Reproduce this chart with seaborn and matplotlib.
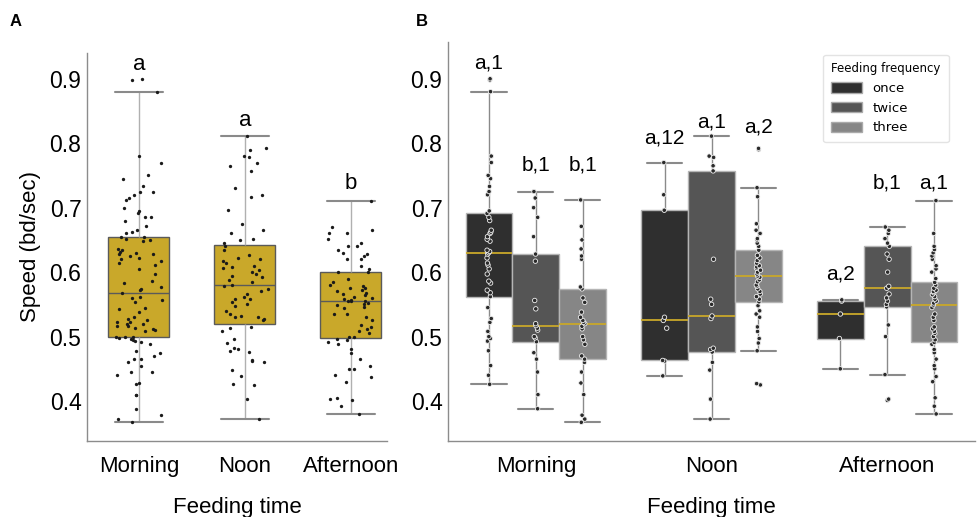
import numpy as np
import pandas as pd
import matplotlib
matplotlib.use("Agg")
import matplotlib.pyplot as plt
from matplotlib.patches import Patch
import seaborn as sns

times = ["Morning", "Noon", "Afternoon"]
freqs = ["once", "twice", "three"]

# speeds (bd/sec), one list per feeding time / frequency
morning_once = [0.426, 0.44, 0.455, 0.478, 0.493, 0.497, 0.500, 0.508, 0.522, 0.528, 0.545,
                0.562,
                0.568, 0.572, 0.583, 0.586, 0.597, 0.605, 0.611, 0.614, 0.622, 0.628,
                0.630,
                0.632, 0.634, 0.648, 0.651, 0.655, 0.660, 0.662, 0.665, 0.680, 0.685,
                0.691,
                0.695, 0.72, 0.725, 0.733, 0.745, 0.75, 0.77, 0.78, 0.88, 0.898, 0.90]
morning_twice = [0.388, 0.41, 0.445, 0.465, 0.475, 0.492, 0.498, 0.500, 0.51, 0.513, 0.517,
                 0.52, 0.543, 0.556, 0.617, 0.628, 0.655, 0.685, 0.70, 0.715, 0.725]
morning_three = [0.367, 0.372, 0.378, 0.41, 0.428, 0.445, 0.46, 0.465,
                 0.47, 0.488, 0.495, 0.50, 0.512, 0.516, 0.520,
                 0.522, 0.525, 0.53, 0.538, 0.553, 0.56, 0.574,
                 0.577, 0.62, 0.625, 0.636, 0.65, 0.671, 0.712]
noon_once = [0.439, 0.462, 0.463, 0.513, 0.525, 0.53, 0.696, 0.72, 0.77]
noon_twice = [0.372, 0.403, 0.448, 0.46, 0.476, 0.48, 0.482, 0.528, 0.532,
              0.55, 0.558, 0.62, 0.757, 0.765, 0.778, 0.78, 0.811]
noon_three = [0.425, 0.427, 0.478, 0.49, 0.497, 0.508, 0.515, 0.53, 0.535, 0.54, 0.548,
              0.554,
              0.558, 0.562, 0.566, 0.57, 0.574, 0.578, 0.58, 0.585, 0.588, 0.592,
              0.594,
              0.597, 0.60, 0.603, 0.606, 0.608, 0.61, 0.614, 0.618, 0.622, 0.626,
              0.634,
              0.64, 0.645, 0.65, 0.652, 0.66, 0.665, 0.675, 0.717, 0.731, 0.79, 0.792]
afternoon_once = [0.45, 0.497, 0.535, 0.555, 0.557]
afternoon_twice = [0.401, 0.403, 0.441, 0.50, 0.518, 0.546, 0.55, 0.555, 0.56, 0.566, 0.575,
                   0.578, 0.60, 0.62, 0.628, 0.640, 0.645, 0.652, 0.66, 0.665, 0.670]
afternoon_three = [0.380, 0.392, 0.405, 0.43, 0.438, 0.45, 0.455, 0.465, 0.475, 0.48, 0.488,
                   0.491,
                   0.495, 0.50, 0.505, 0.508, 0.512, 0.515, 0.525, 0.53, 0.535, 0.545,
                   0.549,
                   0.552, 0.555, 0.558, 0.562, 0.565, 0.568, 0.57, 0.572, 0.575, 0.58,
                   0.584,
                   0.59, 0.60, 0.605, 0.61, 0.62, 0.625, 0.63, 0.635, 0.64, 0.66, 0.711]

letters_A = ["a", "a", "b"]
letters_B = ["a,1", "b,1", "b,1", "a,12", "a,1", "a,2", "a,2", "b,1", "a,1"]
# where the letters sit (speed units)
letters_A_y = [0.922, 0.836, 0.738]
letters_B_y = [0.925, 0.766, 0.766, 0.808, 0.833, 0.825, 0.597, 0.738, 0.738]

groups = {
    ("Morning", "once"): morning_once, ("Morning", "twice"): morning_twice, ("Morning", "three"): morning_three,
    ("Noon", "once"): noon_once, ("Noon", "twice"): noon_twice, ("Noon", "three"): noon_three,
    ("Afternoon", "once"): afternoon_once, ("Afternoon", "twice"): afternoon_twice, ("Afternoon", "three"): afternoon_three,
}
rows = []
for (t, f), vals in groups.items():
    for v in vals:
        rows.append({"time": t, "freq": f, "speed": v})
df = pd.DataFrame(rows)

gold = "#C9A82A"
grays = {"once": "#2f2f2f", "twice": "#555555", "three": "#868686"}

sns.set_style("white")
plt.rcParams['font.family'] = ['Liberation Sans', 'DejaVu Sans']
plt.rcParams['text.color'] = 'black'
plt.rcParams['axes.labelcolor'] = 'black'
plt.rcParams['xtick.color'] = 'black'
plt.rcParams['ytick.color'] = 'black'

fig = plt.figure(figsize=(9.77, 5.17), dpi=100)
axA = fig.add_axes([87/977, 1-441/517, 300/977, 388/517])
axB = fig.add_axes([448/977, 1-441/517, 527/977, 399/517])

np.random.seed(2)

# panel A
sns.boxplot(data=df, x="time", y="speed", order=times, ax=axA, color=gold, saturation=1,
            width=0.575, showfliers=False, linewidth=1,
            boxprops=dict(edgecolor="#5a5a5a"), whiskerprops=dict(color="#b0b0b0"),
            capprops=dict(color="#8a8a8a", linewidth=1.5), medianprops=dict(color="#5a5a5a"),
            capwidths=0.46)
sns.stripplot(data=df, x="time", y="speed", order=times, ax=axA, color="#1a1a1a",
              size=2.4, jitter=0.22)
axA.set_xlim(-0.49, 2.34)
axA.set_ylim(0.338, 0.940)
for i, (lab, ly) in enumerate(zip(letters_A, letters_A_y)):
    axA.text(i, ly, lab, ha="center", va="center", fontsize=16)
axA.set_xlabel("Feeding time", fontsize=16, labelpad=14)
axA.set_ylabel("Speed (bd/sec)", fontsize=16, labelpad=6)

# panel B
sns.boxplot(data=df, x="time", y="speed", hue="freq", order=times, hue_order=freqs,
            palette=grays, saturation=1, width=0.8, showfliers=False, linewidth=1, ax=axB,
            boxprops=dict(edgecolor="#b5b5b5"), whiskerprops=dict(color="#8a8a8a"),
            capprops=dict(color="#8a8a8a", linewidth=1.5), medianprops=dict(color=gold, linewidth=1.3),
            capwidths=0.2, legend=False)
sns.stripplot(data=df, x="time", y="speed", hue="freq", order=times, hue_order=freqs,
              palette={f: "#2a2a2a" for f in freqs}, dodge=True, jitter=0.04, size=3.2,
              edgecolor="#f0f0f0", linewidth=0.6, legend=False, ax=axB)
axB.set_xlim(-0.5, 2.5)
axB.set_ylim(0.338, 0.957)
offsets = [-0.8/3, 0, 0.8/3]
k = 0
for i in range(3):
    for j in range(3):
        axB.text(i + offsets[j], letters_B_y[k], letters_B[k], ha="center", va="center", fontsize=15)
        k += 1
axB.set_xlabel("Feeding time", fontsize=16, labelpad=14)
axB.set_ylabel("")

handles = [Patch(facecolor=grays[f], edgecolor="#aaaaaa", label=f) for f in freqs]
leg = axB.legend(handles=handles, title="Feeding frequency", loc="upper left",
                 bbox_to_anchor=(0.70, 0.985), fontsize=9.5, title_fontsize=8.5,
                 frameon=True, handlelength=2.3, handleheight=0.8, borderpad=0.6)
leg.get_frame().set_edgecolor("#dddddd")
leg._legend_box.align = "left"
for t in leg.get_texts():
    t.set_family("DejaVu Sans")
leg.get_title().set_family("DejaVu Sans")

for ax in (axA, axB):
    ax.set_yticks([0.4, 0.5, 0.6, 0.7, 0.8, 0.9])
    ax.set_yticklabels(["0.4", "0.5", "0.6", "0.7", "0.8", "0.9"])
    ax.tick_params(axis="y", labelsize=16.5, length=0, pad=4)
    ax.tick_params(axis="x", labelsize=16, length=3, color="#999999", pad=8)
    sns.despine(ax=ax)
    for s in ("left", "bottom"):
        ax.spines[s].set_color("#8c8c8c")
        ax.spines[s].set_linewidth(1)

fig.text(10/977, 1-22/517, "A", fontsize=12, weight="bold", va="center")
fig.text(416/977, 1-22/517, "B", fontsize=12, weight="bold", va="center")

fig.savefig("out.png", dpi=100)
